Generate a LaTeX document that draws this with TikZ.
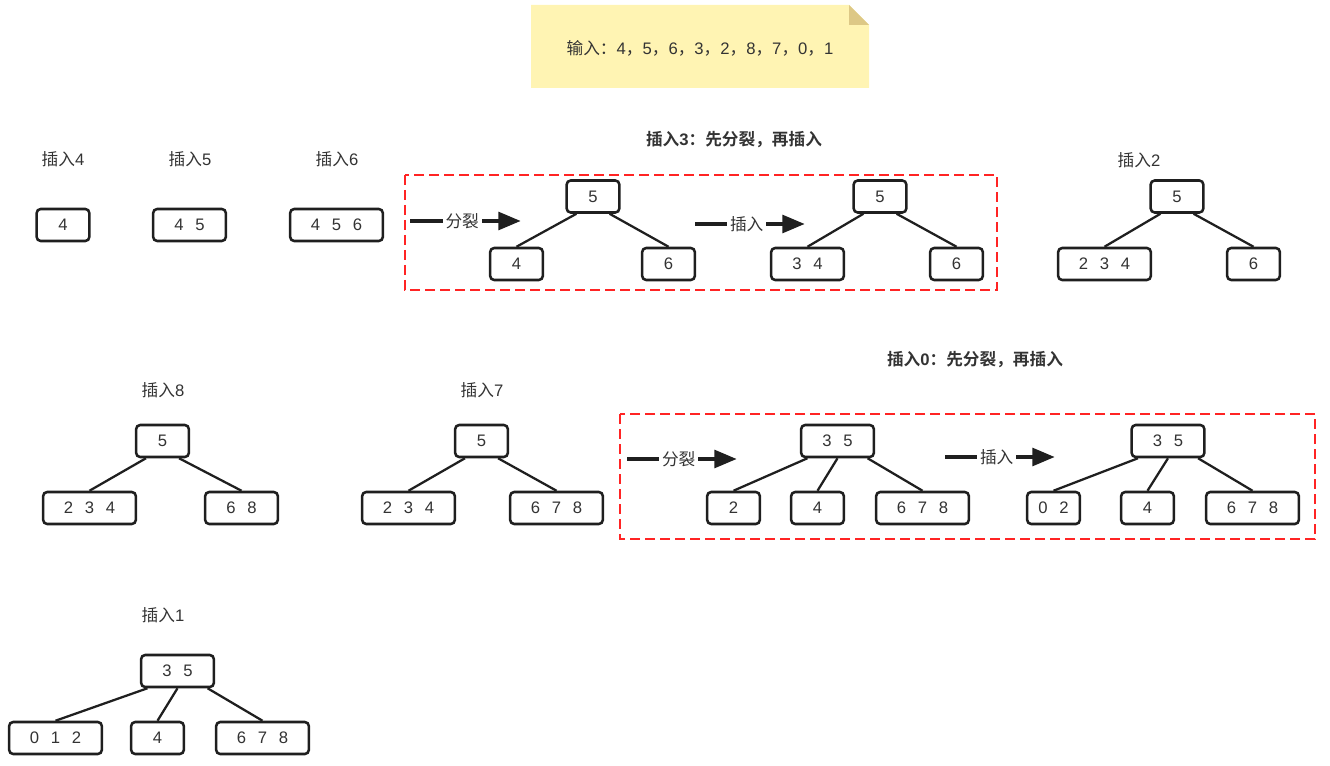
\documentclass[tikz,border=0pt]{standalone}
\usepackage{fontspec}
\setmainfont{Liberation Sans}
\newfontfamily\cjk{Noto Sans CJK SC}[BoldFont={Noto Sans CJK SC Bold}]
\usetikzlibrary{arrows.meta,calc}
\definecolor{txt}{HTML}{333333}
\definecolor{boxc}{HTML}{1F1F1F}
\definecolor{notefill}{HTML}{FFF4B3}
\definecolor{notefold}{HTML}{DDC886}
\definecolor{dred}{HTML}{FF2424}
\newcommand\gp{\hspace{0.7em}}
\newcommand\zh[1]{{\cjk #1}}
\begin{document}
\begin{tikzpicture}[x=0.75pt,y=-0.75pt,
  font=\fontsize{12.5}{15}\selectfont, text=txt,
  bx/.style={draw=boxc, line width=1.9pt, rounded corners=3pt, fill=white,
    minimum height=24pt, inner sep=0pt, text=txt},
  w1/.style={bx, minimum width=39.5pt},
  w2/.style={bx, minimum width=54.5pt},
  w3/.style={bx, minimum width=69.5pt},
  lbl/.style={inner sep=1pt, text=txt},
  ttl/.style={inner sep=1pt, text=txt, font=\fontsize{12.5}{15}\selectfont\bfseries},
  ln/.style={draw=boxc, line width=1.7pt},
  bigarrow/.style={draw=boxc, line width=3.5pt, -{Triangle[length=17pt,width=13pt]}},
  alab/.style={fill=white, inner xsep=2pt, inner ysep=1pt, text=txt},
  frame/.style={draw=dred, line width=1.6pt, dash pattern=on 7.5pt off 3.75pt}
]
\useasboundingbox (0,0) rectangle (1330,766);

% note
\fill[notefill] (531,5) -- (849,5) -- (869,25) -- (869,88) -- (531,88) -- cycle;
\fill[notefold] (849,5) -- (869,25) -- (849,25) -- cycle;
\node[lbl] (note) at (700,48) {\zh{输入：}4\zh{，}5\zh{，}6\zh{，}3\zh{，}2\zh{，}8\zh{，}7\zh{，}0\zh{，}1};

% row 1 simple
\node[lbl] (l4) at (63,159) {\zh{插入}4};
\node[lbl] (l5) at (190,159) {\zh{插入}5};
\node[lbl] (l6) at (337,159) {\zh{插入}6};
\node[w1] (b4) at (63,225) {4};
\node[w2] (b45) at (189.5,225) {4\gp5};
\node[w3] (b456) at (336.5,225) {4\gp5\gp6};

% insert 3
\node[ttl] (l3) at (734,140) {\zh{\bfseries 插入}3\zh{\bfseries ：先分裂，再插入}};
\draw[frame] (405,175) rectangle (997,290);
\coordinate (a1s) at (410,221); \coordinate (a1e) at (521,221);
\draw[bigarrow] (a1s) -- (a1e) node[alab, pos=0.47] {\zh{分裂}};
\node[w1] (t1r) at (593,196.5) {5};
\node[w1] (t1a) at (516.5,264) {4};
\node[w1] (t1b) at (668.5,264) {6};
\draw[ln] ($(t1r.south west)!0.2!(t1r.south east)$) -- (t1a.north);
\draw[ln] ($(t1r.south west)!0.8!(t1r.south east)$) -- (t1b.north);

\coordinate (a2s) at (695,224); \coordinate (a2e) at (805,224);
\draw[bigarrow] (a2s) -- (a2e) node[alab, pos=0.47] {\zh{插入}};
\node[w1] (t2r) at (880,196.5) {5};
\node[w2] (t2a) at (807.5,264) {3\gp4};
\node[w1] (t2b) at (956.5,264) {6};
\draw[ln] ($(t2r.south west)!0.2!(t2r.south east)$) -- (t2a.north);
\draw[ln] ($(t2r.south west)!0.8!(t2r.south east)$) -- (t2b.north);

% insert 2
\node[lbl] (l2) at (1139,160) {\zh{插入}2};
\node[w1] (t3r) at (1177,196.5) {5};
\node[w3] (t3a) at (1104.5,264) {2\gp3\gp4};
\node[w1] (t3b) at (1253.5,264) {6};
\draw[ln] ($(t3r.south west)!0.2!(t3r.south east)$) -- (t3a.north);
\draw[ln] ($(t3r.south west)!0.8!(t3r.south east)$) -- (t3b.north);

% insert 8
\node[lbl] (l8) at (163,390) {\zh{插入}8};
\node[w1] (t4r) at (162.5,441) {5};
\node[w3] (t4a) at (89.5,508) {2\gp3\gp4};
\node[w2] (t4b) at (241.5,508) {6\gp8};
\draw[ln] ($(t4r.south west)!0.2!(t4r.south east)$) -- (t4a.north);
\draw[ln] ($(t4r.south west)!0.8!(t4r.south east)$) -- (t4b.north);

% insert 7
\node[lbl] (l7) at (482,390) {\zh{插入}7};
\node[w1] (t5r) at (481.5,441) {5};
\node[w3] (t5a) at (408.5,508) {2\gp3\gp4};
\node[w3] (t5b) at (556.5,508) {6\gp7\gp8};
\draw[ln] ($(t5r.south west)!0.2!(t5r.south east)$) -- (t5a.north);
\draw[ln] ($(t5r.south west)!0.8!(t5r.south east)$) -- (t5b.north);

% insert 0
\node[ttl] (l0) at (975,360) {\zh{\bfseries 插入}0\zh{\bfseries ：先分裂，再插入}};
\draw[frame] (620,414) rectangle (1315,539);
\coordinate (a3s) at (627,459); \coordinate (a3e) at (737,459);
\draw[bigarrow] (a3s) -- (a3e) node[alab, pos=0.47] {\zh{分裂}};
\node[w2] (t6r) at (837.5,441) {3\gp5};
\node[w1] (t6a) at (733.5,508) {2};
\node[w1] (t6b) at (817.5,508) {4};
\node[w3] (t6c) at (922.5,508) {6\gp7\gp8};
\draw[ln] ($(t6r.south west)!0.1!(t6r.south east)$) -- (t6a.north);
\draw[ln] ($(t6r.south west)!0.5!(t6r.south east)$) -- (t6b.north);
\draw[ln] ($(t6r.south west)!0.9!(t6r.south east)$) -- (t6c.north);

\coordinate (a4s) at (945,457); \coordinate (a4e) at (1055,457);
\draw[bigarrow] (a4s) -- (a4e) node[alab, pos=0.47] {\zh{插入}};
\node[w2] (t7r) at (1168,441) {3\gp5};
\node[w1] (t7a) at (1053.5,508) {0\gp2};
\node[w1] (t7b) at (1147.5,508) {4};
\node[w3] (t7c) at (1252.5,508) {6\gp7\gp8};
\draw[ln] ($(t7r.south west)!0.1!(t7r.south east)$) -- (t7a.north);
\draw[ln] ($(t7r.south west)!0.5!(t7r.south east)$) -- (t7b.north);
\draw[ln] ($(t7r.south west)!0.9!(t7r.south east)$) -- (t7c.north);

% insert 1
\node[lbl] (l1) at (163,615) {\zh{插入}1};
\node[w2] (t8r) at (177.5,671) {3\gp5};
\node[w3] (t8a) at (55.5,738) {0\gp1\gp2};
\node[w1] (t8b) at (157.5,738) {4};
\node[w3] (t8c) at (262.5,738) {6\gp7\gp8};
\draw[ln] ($(t8r.south west)!0.1!(t8r.south east)$) -- (t8a.north);
\draw[ln] ($(t8r.south west)!0.5!(t8r.south east)$) -- (t8b.north);
\draw[ln] ($(t8r.south west)!0.9!(t8r.south east)$) -- (t8c.north);
\end{tikzpicture}
\end{document}
